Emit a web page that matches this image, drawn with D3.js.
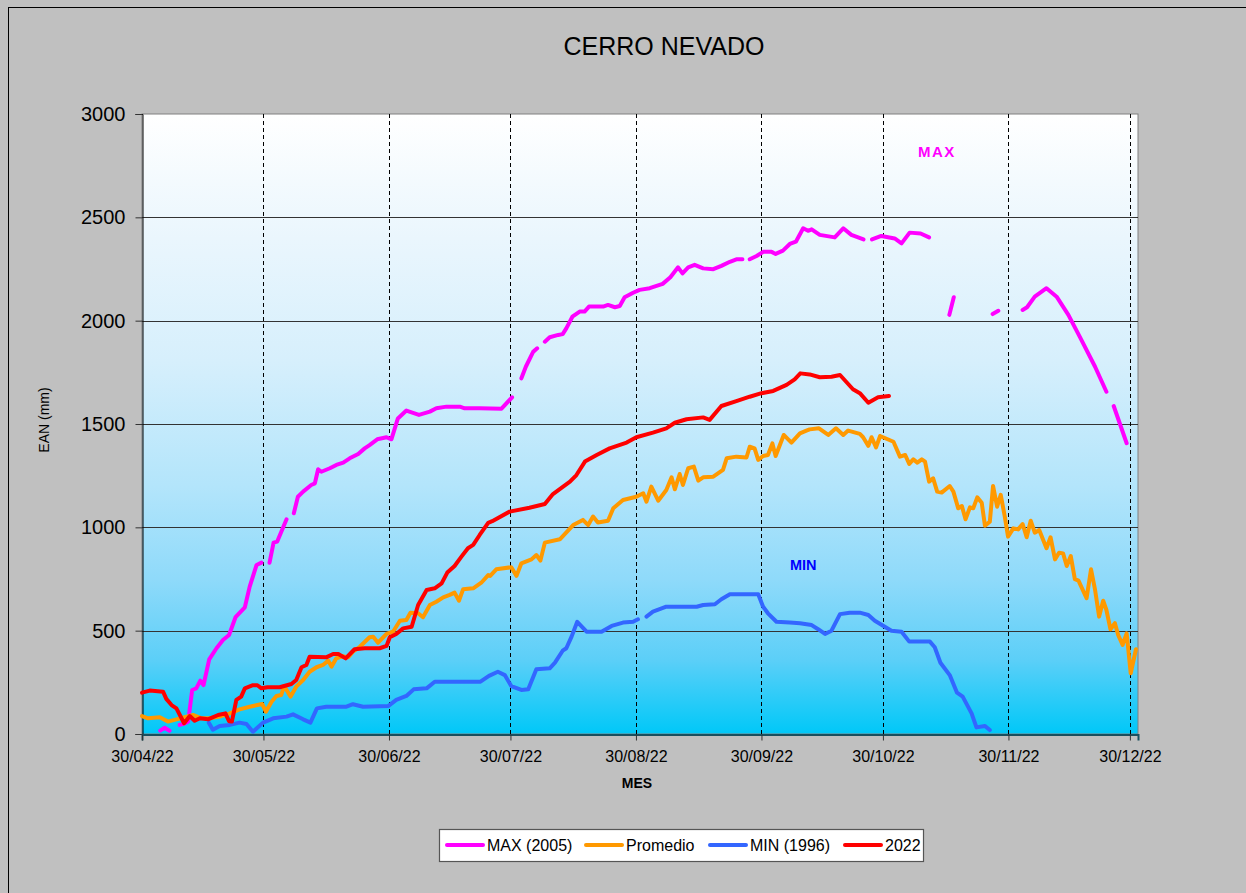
<!DOCTYPE html>
<html>
<head>
<meta charset="utf-8">
<title>CERRO NEVADO</title>
<script src="https://cdn.jsdelivr.net/npm/d3@7"></script>
<style>
  html, body { margin: 0; padding: 0; background: #c0c0c0; }
  svg { display: block; font-family: "Liberation Sans", Arial, sans-serif; }
</style>
</head>
<body>
<svg id="chart" width="1246" height="893"></svg>
<script>
// Snow water equivalent (EAN) at Cerro Nevado, season 2022.
// x values are days counted from 30/04/22; null marks a break in the record.

const seasonStart = "30/04/22";
const seasonEnd = "01/01/23";
const tickLabels = ["30/04/22", "30/05/22", "30/06/22", "30/07/22", "30/08/22",
                    "30/09/22", "30/10/22", "30/11/22", "30/12/22"];
const yTicks = [0, 500, 1000, 1500, 2000, 2500, 3000];

const seriesNames = ["MAX (2005)", "Promedio", "MIN (1996)", "2022"];
const seriesColors = ["#ff00ff", "#ff9900", "#3366ff", "#ff0000"];

const max2005 = [
  [4.5,16],[5.6,30],[6.8,16], null,
  [9.3,44],[10.1,48],[11.4,60],[12.4,213],[13.4,221],[14.4,258],[15.2,237],[16.6,361],[18.4,415],
  [20,455],[21.5,479],[23.1,565],[25.4,613],[26.6,713],[28.3,818],[29.5,829], null,
  [31.5,829],[32.5,926],[33.4,931],[35.7,1039], null,
  [37.5,1068],[38.5,1148],[39.8,1173],[41.8,1205],[42.7,1213],[43.5,1281],[44.3,1269],[46.4,1286],
  [48,1302],[49.7,1313],[51.3,1334],[53.4,1355],[55,1382],[56.2,1398],[58.1,1426],[60.4,1436],
  [61.6,1426],[63.2,1527],[65.3,1565],[68.4,1544],[71.1,1560],[72.7,1576],[75.2,1584],[78.5,1584],
  [79.7,1576],[83.4,1576],[88.8,1574],[91.4,1629], null,
  [93.7,1721],[94.8,1777],[96.6,1849],[97.6,1866], null,
  [99.5,1898],[100.7,1920],[102.8,1931],[103.9,1935],[104.8,1963],[106.3,2019],[108.1,2044],[109.3,2044],
  [110.4,2068],[113.9,2068],[115.1,2076],[116.8,2065],[118,2071],[119.2,2113],[121.3,2135],[122.9,2149],
  [125.4,2157],[128.6,2178],[130.5,2210],[132.4,2258],[133.5,2229],[134.9,2258],[136.5,2270],[138.6,2253],
  [141.1,2249],[143.1,2265],[145.2,2285],[146.8,2297],[148.3,2297], null,
  [150.1,2297],[151.8,2313],[153.4,2333],[155.5,2333],[156.5,2323],[158.3,2339],[160,2371],[161.5,2382],
  [163.3,2447],[164.5,2435],[165.4,2442],[167.4,2415],[171.1,2403],[173.2,2447],[175.2,2415],[178.2,2393], null,
  [180.3,2393],[182.6,2410],[185.9,2398],[187.6,2374],[189.6,2426],[192.3,2422],[194.4,2403], null,
  [199.4,2028],[200.5,2113], null,
  [210.1,2032],[211.5,2048], null,
  [217.5,2052],[218.6,2065],[220.5,2116],[223.4,2157],[225.9,2116],[228.8,2028],[231.6,1923],[235.4,1777],[238.2,1656], null,
  [240,1587],[243.2,1407]
];

const promedio = [
  [0,87],[1.5,76],[4.4,81],[6.4,60],[8.5,71],[10.5,81],[12.6,92],[14.7,76],[16.7,76],[19.2,84],
  [21.7,100],[24.1,119],[26.6,132],[28.5,140],[29.7,145],[30.6,108],[32,156],[33.2,184],[34.4,189],[35.1,232],
  [36.7,181],[38.1,229],[39.8,261],[41.4,301],[43.1,323],[44.7,334],[46,355],[46.8,326],[48,366],[49.6,377],
  [50.9,371],[52.1,398],[53.8,422],[56.2,468],[57.1,471],[58.3,442],[60.4,484],[62,495],[63.7,548],[65.3,552],
  [66.3,587],[68.2,584],[69.4,565],[71.1,624],[72.7,640],[74.4,661],[76,673],[77.2,684],[78.3,645],[79.3,700],
  [81.8,705],[83.8,732],[85.5,769],[86,765],[87.5,797],[91.2,807],[92.5,765],[93.7,826],[96.2,845],[97.4,866],
  [98.4,839],[99.5,926],[103.2,942],[106.5,1011],[108.9,1036],[110.2,1011],[111.4,1052],[112.6,1023],[115.1,1032],
  [116.4,1092],[118.8,1132],[122.1,1148],[123.8,1165],[124.6,1124],[125.8,1197],[127.5,1129],[129.5,1181],
  [130.8,1242],[131.6,1184],[132.8,1258],[133.6,1205],[134.9,1286],[136.3,1294],[137.4,1226],[138.6,1242],
  [141.1,1245],[143.5,1278],[144.4,1334],[146.8,1342],[149.3,1338],[150.1,1390],[151.3,1382],[152.2,1326],
  [153.4,1345],[154.6,1350],[155.7,1406],[156.5,1345],[158.5,1447],[160.4,1410],[162.5,1455],[164.1,1468],
  [164.9,1474],[167.2,1479],[169.5,1447],[171.4,1479],[173.2,1447],[174.4,1468],[177.3,1452],[178.1,1436],
  [179.4,1394],[180.2,1436],[181.3,1387],[182.3,1442],[185.6,1414],[187.2,1342],[188.5,1350],[189.5,1307],
  [190.5,1329],[191.5,1313],[192.6,1329],[193.4,1318],[194.4,1221],[195.4,1237],[196.4,1173],[197.5,1168],
  [199.5,1200],[200.4,1173],[201.6,1092],[202.5,1103],[203.4,1039],[204.5,1097],[205.3,1092],[206.3,1145],
  [207.4,1119],[208.2,1008],[209.4,1027],[210.2,1200],[211.2,1100],[212.1,1157],[213.1,1052],[213.9,955],
  [215.2,995],[216.4,990],[217.5,1016],[218.5,952],[219.5,1032],[220.5,974],[221.6,987],[223.4,899],
  [224.4,952],[225.5,845],[226.5,877],[227.5,874],[228.4,813],[229.4,861],[230.4,749],[231.3,742],
  [233.3,657],[234.4,797],[235.4,697],[236.4,568],[237.4,645],[238.2,600],[239.2,507],[240.3,536],
  [241.1,479],[242.2,431],[243.2,487],[244.2,294],[245.5,410]
];

const min1996 = [
  [16.5,55],[17.5,21],[19.2,39],[21.7,44],[24.1,55],[25.8,48],[27.4,11],[29.9,55],[32.4,76],[35.7,84],
  [37.3,95],[39.8,71],[41.6,55],[43.2,124],[45.5,132],[50.5,132],[52.1,144],[54.6,132],[60.8,135],[62.8,165],
  [65.3,184],[67.1,216],[70.3,221],[72.3,253],[83.6,253],[85.7,281],[87.9,301],[89.6,285],[91.2,232],
  [93.7,213],[95.4,216],[97.4,313],[100.7,318],[102,345],[103.9,403],[104.8,415],[106.1,471],[107.5,543],
  [109.8,495],[113.5,495],[116,523],[118.8,539],[121.3,543],[122.5,555], null,
  [124.6,568],[126.2,592],[129.5,616],[137,616],[138.6,624],[141.5,628],[143.1,652],[145.2,676],[152.2,676],
  [153.4,616],[154.6,584],[156.7,543],[160,539],[162.5,536],[165.4,527],[167,507],[168.7,484],[170.3,500],
  [172.4,580],[174.8,587],[177.3,587],[179.4,576],[181,548],[185.1,500],[187.6,495],[189.5,447],[194.6,447],
  [195.8,420],[197.2,345],[199.5,285],[201.3,200],[202.7,181],[204.9,100],[206.1,32],[208.2,39],[209.4,19]
];

const year2022 = [
  [0,200],[1.9,210],[5.2,205],[6,170],[7.3,140],[8.5,124],[10.4,52],[11.8,87],[13,64],[14.3,76],
  [16.3,71],[18.8,92],[20.6,100],[21.5,62],[22.2,60],[23.3,165],[24.5,181],[25.4,221],[27.4,236],[28.5,236],
  [29.5,221],[31,226],[34,226],[36.9,242],[38.1,261],[39.4,323],[40.6,334],[41.4,374],[45.5,371],[47.2,387],
  [48.5,387],[50.3,366],[52.5,410],[55,415],[58.7,415],[60.4,426],[61.2,468],[62.8,484],[64.5,511],[66.6,519],
  [68.2,624],[70.3,697],[72.3,705],[74,729],[75.4,781],[77.2,813],[78.9,858],[80.5,899],[81.8,915],[83.4,963],
  [85.5,1022],[86.5,1030],[90.8,1076],[95.7,1095],[99.5,1113],[101.5,1161],[105.7,1221],[107.3,1253],[109.4,1318],
  [112.3,1350],[115.5,1382],[119.7,1410],[122.1,1436],[126.2,1458],[129.5,1479],[131.6,1506],[134.5,1523],
  [138.6,1532],[140.2,1520],[143.1,1587],[146.8,1611],[150.1,1632],[153,1649],[155.9,1660],[159.2,1689],
  [161.2,1716],[162.6,1745],[164.9,1740],[167.4,1726],[170.3,1729],[172.4,1737],[175.6,1668],[177.3,1649],
  [179.4,1603],[181.8,1629],[184.5,1636]
];

const seriesData = [max2005, promedio, min1996, year2022];

// ---- layout ----
const svg = d3.select("#chart");
const W = 1246, H = 893;
const plot = { left: 142, top: 114, right: 1138, bottom: 734 };

const parse = d3.utcParse("%d/%m/%y");
const start = parse(seasonStart);
const toDate = day => new Date(start.getTime() + day * 864e5);

const x = d3.scaleUtc().domain([start, parse(seasonEnd)]).range([plot.left, plot.right]);
const y = d3.scaleLinear().domain([0, 3000]).range([plot.bottom, plot.top]);

// outer background and frame
svg.append("rect").attr("x", 0).attr("y", 0).attr("width", W).attr("height", H).attr("fill", "#c0c0c0");
svg.append("rect").attr("x", 8.5).attr("y", 7.5).attr("width", W + 20).attr("height", H + 20)
  .attr("fill", "none").attr("stroke", "#000").attr("stroke-width", 1);

// plot background gradient
const defs = svg.append("defs");
const grad = defs.append("linearGradient").attr("id", "bg").attr("x1", 0).attr("y1", 0).attr("x2", 0).attr("y2", 1);
[[0, "#ffffff"], [0.2, "#eaf6fd"], [0.4, "#d6effc"], [0.6, "#b3e5fb"], [0.75, "#8fdafa"],
 [0.88, "#5ccff8"], [1, "#00c8f8"]].forEach(([o, c]) =>
  grad.append("stop").attr("offset", o).attr("stop-color", c));

svg.append("rect")
  .attr("x", plot.left).attr("y", plot.top)
  .attr("width", plot.right - plot.left).attr("height", plot.bottom - plot.top)
  .attr("fill", "url(#bg)").attr("stroke", "#808080").attr("stroke-width", 1);

// horizontal grid
svg.append("g").selectAll("line").data(yTicks.filter(v => v > 0 && v < 3000)).join("line")
  .attr("x1", plot.left).attr("x2", plot.right)
  .attr("y1", d => Math.round(y(d)) + 0.5).attr("y2", d => Math.round(y(d)) + 0.5)
  .attr("stroke", "#333").attr("stroke-width", 1);

// vertical dashed lines at month marks
const tickDates = tickLabels.map(parse);
svg.append("g").selectAll("line").data(tickDates.slice(1)).join("line")
  .attr("x1", d => Math.round(x(d)) + 0.5).attr("x2", d => Math.round(x(d)) + 0.5)
  .attr("y1", plot.top).attr("y2", plot.bottom)
  .attr("stroke", "#000").attr("stroke-width", 1).attr("stroke-dasharray", "4,3");

// axes
const yAxis = d3.axisLeft(y).tickValues(yTicks).tickSize(7).tickPadding(10).tickFormat(d3.format("d"));
const gy = svg.append("g").attr("transform", `translate(${plot.left + 0.5},0)`).call(yAxis);
gy.select(".domain").attr("stroke", "#000");
gy.selectAll(".tick line").attr("stroke", "#333");
gy.selectAll("text").attr("font-size", 20).attr("fill", "#000")
  .attr("font-family", "'Liberation Sans', Arial, sans-serif");

const xAxis = d3.axisBottom(x).tickValues(tickDates).tickSize(6).tickPadding(10)
  .tickFormat((d, i) => tickLabels[i]);
const gx = svg.append("g").attr("transform", `translate(0,${plot.bottom + 0.5})`).call(xAxis);
gx.select(".domain").attr("stroke", "#1a4f5e").attr("stroke-width", 2);
gx.selectAll(".tick line").attr("stroke", "#333");
gx.selectAll("text").attr("font-size", 16).attr("fill", "#000")
  .attr("font-family", "'Liberation Sans', Arial, sans-serif");

// series lines
const line = d3.line()
  .defined(d => d !== null)
  .x(d => x(toDate(d[0])))
  .y(d => y(d[1]));

svg.append("g").selectAll("path").data(seriesData).join("path")
  .attr("d", line)
  .attr("fill", "none")
  .attr("stroke", (d, i) => seriesColors[i])
  .attr("stroke-width", 4)
  .attr("stroke-linejoin", "round")
  .attr("stroke-linecap", "round");

// titles
svg.append("text").attr("x", 664).attr("y", 55).attr("text-anchor", "middle")
  .attr("font-size", 25).attr("fill", "#000").text("CERRO NEVADO");
svg.append("text").attr("x", 637).attr("y", 788).attr("text-anchor", "middle")
  .attr("font-size", 14).attr("font-weight", "bold").attr("fill", "#000").text("MES");
svg.append("text").attr("transform", "translate(49,420) rotate(-90)").attr("text-anchor", "middle")
  .attr("font-size", 14).attr("fill", "#000").text("EAN (mm)");

// in-plot labels
svg.append("text").attr("x", 918).attr("y", 157).attr("font-size", 15).attr("font-weight", "bold")
  .attr("letter-spacing", 1.5).attr("fill", "#ff00ff").text("MAX");
svg.append("text").attr("x", 790).attr("y", 570).attr("font-size", 14.5).attr("font-weight", "bold")
  .attr("fill", "#0000ff").text("MIN");

// legend
const legend = svg.append("g");
legend.append("rect").attr("x", 439.5).attr("y", 829.5).attr("width", 484).attr("height", 32)
  .attr("fill", "#fff").attr("stroke", "#555").attr("stroke-width", 1.2);
const legendX = [447, 586, 710, 845];
const items = legend.selectAll("g.item").data(seriesNames).join("g").attr("class", "item")
  .attr("transform", (d, i) => `translate(${legendX[i]},845)`);
items.append("line").attr("x1", 0).attr("x2", 36).attr("y1", 0).attr("y2", 0)
  .attr("stroke", (d, i) => seriesColors[i]).attr("stroke-width", 4).attr("stroke-linecap", "round");
items.append("text").attr("x", 40).attr("y", 6).attr("font-size", 16).attr("fill", "#000")
  .text(d => d);
</script>
</body>
</html>
